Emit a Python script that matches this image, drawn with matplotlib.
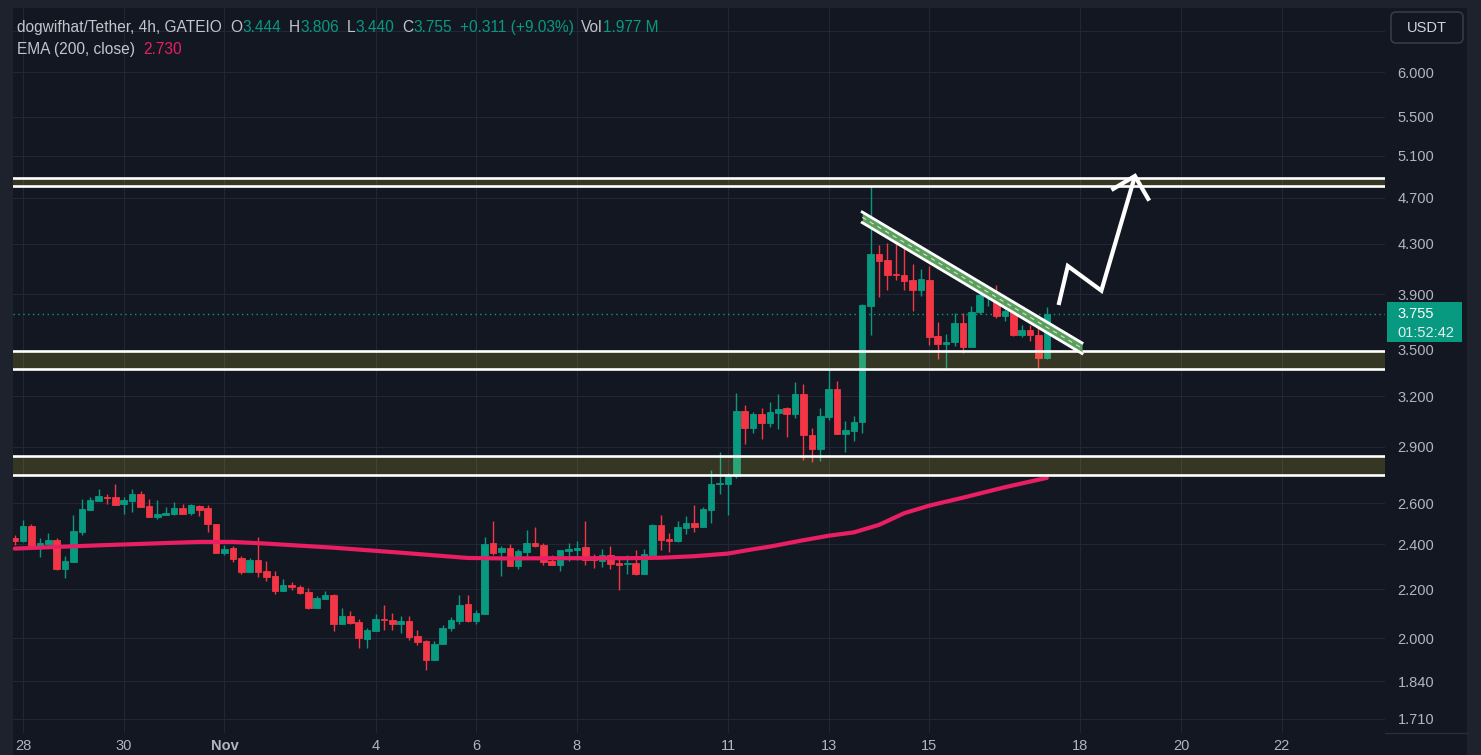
import numpy as np
import matplotlib
matplotlib.use("Agg")
import matplotlib.pyplot as plt
from matplotlib.patches import Rectangle, FancyBboxPatch
from matplotlib.ticker import NullLocator
from matplotlib.transforms import IdentityTransform

# 4h candles, dogwifhat/Tether (GATEIO), Oct 27 20:00 -> Nov 17 08:00
opens = [2.430, 2.413, 2.487, 2.388, 2.403, 2.420, 2.289, 2.320, 2.460, 2.567,
         2.612, 2.630, 2.630, 2.596, 2.612, 2.646, 2.585, 2.532, 2.542, 2.547,
         2.575, 2.552, 2.585, 2.575, 2.497, 2.361, 2.383, 2.337, 2.276, 2.328,
         2.279, 2.257, 2.194, 2.218, 2.210, 2.188, 2.122, 2.158, 2.175, 2.054,
         2.088, 2.064, 1.998, 2.030, 2.076, 2.072, 2.054, 2.068, 2.009, 1.990,
         1.919, 1.976, 2.041, 2.069, 2.137, 2.069, 2.098, 2.406, 2.362, 2.383,
         2.303, 2.365, 2.407, 2.397, 2.324, 2.306, 2.369, 2.374, 2.388, 2.333,
         2.324, 2.351, 2.315, 2.309, 2.315, 2.266, 2.351, 2.492, 2.425, 2.416,
         2.478, 2.502, 2.482, 2.566, 2.698, 2.698, 2.740, 3.108, 3.010, 3.091,
         3.034, 3.099, 3.127, 3.093, 3.213, 2.964, 2.890, 3.075, 3.244, 2.970,
         2.987, 3.040, 3.812, 4.216, 4.167, 4.055, 4.049, 4.009, 3.932, 4.009,
         3.592, 3.537, 3.551, 3.688, 3.516, 3.767, 3.889, 3.902, 3.738, 3.774,
         3.603, 3.638, 3.603, 3.444]
highs = [2.442, 2.516, 2.497, 2.428, 2.454, 2.428, 2.345, 2.539, 2.620, 2.629,
         2.672, 2.646, 2.698, 2.629, 2.672, 2.660, 2.619, 2.613, 2.580, 2.605,
         2.595, 2.595, 2.590, 2.590, 2.497, 2.395, 2.392, 2.346, 2.337, 2.434,
         2.323, 2.279, 2.244, 2.231, 2.218, 2.205, 2.171, 2.192, 2.180, 2.122,
         2.109, 2.076, 2.041, 2.096, 2.133, 2.100, 2.088, 2.088, 2.032, 1.995,
         1.990, 2.052, 2.084, 2.175, 2.175, 2.113, 2.434, 2.511, 2.393, 2.402,
         2.378, 2.468, 2.482, 2.408, 2.351, 2.374, 2.407, 2.416, 2.512, 2.356,
         2.378, 2.393, 2.337, 2.351, 2.374, 2.378, 2.497, 2.542, 2.455, 2.512,
         2.537, 2.591, 2.581, 2.772, 2.870, 2.756, 3.218, 3.145, 3.103, 3.127,
         3.163, 3.213, 3.130, 3.289, 3.276, 3.010, 3.127, 3.373, 3.295, 3.051,
         3.079, 3.826, 4.815, 4.290, 4.307, 4.323, 4.357, 4.136, 4.096, 4.119,
         3.696, 3.606, 3.760, 3.760, 3.812, 3.963, 3.948, 3.970, 3.812, 3.804,
         3.674, 3.674, 3.681, 3.806]
lows = [2.397, 2.410, 2.384, 2.343, 2.403, 2.285, 2.250, 2.320, 2.442, 2.567,
        2.612, 2.596, 2.591, 2.547, 2.557, 2.582, 2.532, 2.522, 2.542, 2.542,
        2.547, 2.542, 2.537, 2.460, 2.361, 2.351, 2.320, 2.267, 2.276, 2.254,
        2.233, 2.181, 2.194, 2.198, 2.181, 2.118, 2.122, 2.158, 2.030, 2.054,
        2.054, 1.961, 1.964, 2.030, 2.034, 2.034, 2.022, 1.995, 1.972, 1.879,
        1.919, 1.976, 2.030, 2.057, 2.065, 2.057, 2.098, 2.351, 2.257, 2.300,
        2.288, 2.333, 2.388, 2.307, 2.306, 2.280, 2.324, 2.328, 2.306, 2.292,
        2.297, 2.288, 2.197, 2.266, 2.261, 2.266, 2.351, 2.374, 2.365, 2.411,
        2.446, 2.460, 2.482, 2.502, 2.647, 2.542, 2.730, 2.918, 2.981, 2.941,
        3.016, 3.004, 2.958, 3.069, 2.828, 2.817, 2.822, 3.057, 2.970, 2.873,
        2.930, 2.981, 3.603, 3.881, 3.927, 4.008, 3.927, 3.777, 3.889, 3.530,
        3.435, 3.370, 3.523, 3.476, 3.516, 3.755, 3.812, 3.724, 3.702, 3.592,
        3.585, 3.562, 3.376, 3.440]
closes = [2.413, 2.487, 2.384, 2.406, 2.420, 2.289, 2.323, 2.463, 2.570, 2.615,
          2.635, 2.627, 2.591, 2.615, 2.646, 2.582, 2.532, 2.545, 2.552, 2.575,
          2.547, 2.590, 2.567, 2.494, 2.361, 2.378, 2.334, 2.276, 2.328, 2.276,
          2.254, 2.194, 2.218, 2.207, 2.185, 2.122, 2.164, 2.175, 2.054, 2.088,
          2.061, 2.002, 2.032, 2.076, 2.073, 2.054, 2.068, 2.006, 1.987, 1.919,
          1.978, 2.040, 2.072, 2.133, 2.069, 2.100, 2.402, 2.360, 2.383, 2.303,
          2.369, 2.407, 2.394, 2.319, 2.306, 2.374, 2.378, 2.383, 2.328, 2.328,
          2.351, 2.310, 2.306, 2.315, 2.266, 2.356, 2.492, 2.420, 2.416, 2.482,
          2.502, 2.482, 2.571, 2.698, 2.703, 2.740, 3.108, 3.008, 3.091, 3.034,
          3.103, 3.121, 3.093, 3.213, 2.964, 2.890, 3.079, 3.244, 2.970, 2.993,
          3.045, 3.819, 4.216, 4.159, 4.047, 4.047, 4.001, 3.932, 4.017, 3.585,
          3.537, 3.551, 3.688, 3.516, 3.767, 3.894, 3.896, 3.738, 3.774, 3.603,
          3.638, 3.599, 3.442, 3.755]

# EMA(200, close) read at a subset of candle positions
ema_pos = [0, 10, 22, 26, 30, 38, 46, 54, 58, 65, 73, 77, 81, 85, 88, 90, 94,
           97, 100, 103, 106, 109, 113, 118, 123]
ema_val = [2.380, 2.395, 2.411, 2.411, 2.403, 2.384, 2.361, 2.337, 2.335, 2.336,
           2.336, 2.338, 2.345, 2.357, 2.377, 2.389, 2.419, 2.440, 2.456, 2.492,
           2.549, 2.587, 2.627, 2.681, 2.730]

# support / resistance zones (low, high)
zones = [(4.810, 4.885), (3.372, 3.493), (2.745, 2.848)]

# falling channel drawn on the chart
chan_x = [101.0, 127.2]
chan_top = [4.573, 3.547]
chan_bot = [4.480, 3.475]

# projected path arrow
arrow_x = [124.4, 125.5, 129.5, 133.5]
arrow_y = [3.818, 4.118, 3.926, 4.904]
head_x = [130.7, 133.5, 135.2]
head_y = [4.773, 4.904, 4.675]

price_ticks = [6.5, 6.0, 5.5, 5.1, 4.7, 4.3, 3.9, 3.5, 3.2, 2.9, 2.6, 2.4,
               2.2, 2.0, 1.84, 1.71]
date_pos = [1, 13, 25, 43, 55, 67, 85, 97, 109, 127, 139, 151]
date_lbl = ['28', '30', 'Nov', '4', '6', '8', '11', '13', '15', '18', '20', '22']

UP = '#089981'
DOWN = '#f23645'
BG = '#131722'
FRAME = '#1e222d'
GRID = '#232735'
TXT = '#b2b5be'
EMA_C = '#e91e63'

plt.rcParams['font.family'] = ['Liberation Sans', 'DejaVu Sans']

W, H = 1481, 755
fig = plt.figure(figsize=(W / 100, H / 100), dpi=100, facecolor=FRAME)

# dark panel covering chart, price scale and time scale
fig.add_artist(Rectangle((13 / W, 0), (1467 - 13) / W, (H - 8) / H,
                         transform=fig.transFigure, facecolor=BG,
                         edgecolor='none', zorder=-5))

ax = fig.add_axes([13 / W, 1 - 733 / H, (1385 - 13) / W, (733 - 8) / H])
ax.set_facecolor(BG)
for s in ax.spines.values():
    s.set_visible(False)

ax.set_yscale('log')
ax.set_xlim(-0.2, 163.3)
ax.set_ylim(1.664, 6.794)

o = np.array(opens)
c = np.array(closes)
x = np.arange(len(o))
cols = np.where(c >= o, UP, DOWN)

ax.vlines(x, lows, highs, colors=cols, lw=1, zorder=3)
ax.bar(x, np.abs(c - o), bottom=np.minimum(o, c), width=0.78, color=cols,
       edgecolor=cols, lw=0.6, zorder=4)

ax.plot(ema_pos, ema_val, color=EMA_C, lw=3, solid_capstyle='round', zorder=5)

# zones
for lo, hi in zones:
    ax.axhspan(lo, hi, color='#ffeb3b', alpha=0.15, lw=0, zorder=6)
    ax.axhline(lo, color='white', lw=1.9, zorder=7)
    ax.axhline(hi, color='white', lw=1.9, zorder=7)

# channel
ax.fill_between(chan_x, chan_bot, chan_top, color='#5a9f5c', lw=0, zorder=7)
ax.plot(chan_x, chan_top, color='white', lw=2, zorder=8)
ax.plot(chan_x, chan_bot, color='white', lw=2, zorder=8)
ax.plot(chan_x, np.sqrt(np.array(chan_top) * np.array(chan_bot)),
        color='#d0e0d0', lw=0.8, ls=(0, (4, 4)), zorder=8)

# arrow
ax.plot(arrow_x, arrow_y, color='white', lw=3, solid_joinstyle='miter',
        solid_capstyle='butt', zorder=9)
ax.plot(head_x, head_y, color='white', lw=3, solid_joinstyle='miter',
        solid_capstyle='butt', zorder=9)

# last price line
ax.axhline(closes[-1], color=UP, lw=1, ls=(0, (1, 2.5)), zorder=2)

# grid and ticks (6.500 label sits under the USDT button)
ax.set_xticks(date_pos)
ax.set_xticklabels(date_lbl)
ax.set_yticks(price_ticks)
ax.set_yticklabels(['' if p > 6.2 else '%.3f' % p for p in price_ticks])
ax.yaxis.set_minor_locator(NullLocator())
ax.xaxis.set_minor_locator(NullLocator())
ax.yaxis.tick_right()
ax.grid(True, color=GRID, lw=0.8, zorder=0)
ax.set_axisbelow(True)
ax.tick_params(axis='y', length=0, pad=9, labelsize=10.5, labelcolor=TXT)
ax.tick_params(axis='x', length=0, pad=4, labelsize=10.5, labelcolor=TXT)
for lbl in ax.get_xticklabels():
    if lbl.get_text() == 'Nov':
        lbl.set_fontweight('bold')

# price scale bottom border
fig.add_artist(plt.Line2D([1385 / W, 1467 / W], [1 - 733 / H] * 2,
                          transform=fig.transFigure, color='#2a2e39', lw=1))

# last price label on the price scale
ypix = ax.transData.transform((0, closes[-1]))[1]
fig.add_artist(Rectangle((1387, ypix - 28), 75, 40, transform=IdentityTransform(),
                         fc=UP, ec='none', zorder=20))
fig.text(1397 / W, ypix / H, '%.3f' % closes[-1], color='white', fontsize=10.5,
         ha='left', va='center', zorder=21)
fig.text(1397 / W, (ypix - 19) / H, '01:52:42', color='#e8ecef', fontsize=10.5,
         ha='left', va='center', zorder=21)

# USDT box
fig.add_artist(FancyBboxPatch((1391 / 100, (H - 43) / 100), 0.72, 0.31,
                              boxstyle='round,pad=0,rounding_size=0.05',
                              transform=fig.dpi_scale_trans, fc=BG,
                              ec='#363a45', lw=1.2, zorder=10))
fig.text(1427 / W, 1 - 28 / H, 'USDT', color='#d1d4dc', fontsize=10.5,
         ha='center', va='center', zorder=11)


def text_row(parts, x0, y0, size=11):
    t = fig.text(x0, y0, parts[0][0], color=parts[0][1], fontsize=size,
                 va='bottom', ha='left')
    for s, col, gap in parts[1:]:
        t = ax.annotate(s, xy=(1, 0), xycoords=t, xytext=(gap, 0),
                        textcoords='offset points', va='bottom', ha='left',
                        color=col, fontsize=size, annotation_clip=False)
    return t


HDR = '#c2c5cc'
text_row([('dogwifhat/Tether, 4h, GATEIO', HDR),
          ('O', HDR, 6), ('%.3f' % opens[-1], UP, 0.2),
          ('H', HDR, 5.5), ('%.3f' % highs[-1], UP, 0.2),
          ('L', HDR, 5.5), ('%.3f' % lows[-1], UP, 0.2),
          ('C', HDR, 5.5), ('%.3f' % closes[-1], UP, 0.2),
          ('+0.311 (+9.03%)', UP, 5.5),
          ('Vol', HDR, 5.5), ('1.977 M', UP, 0.2)],
         17 / W, 1 - 35 / H, size=11.2)
text_row([('EMA (200, close)', HDR), ('%.3f' % ema_val[-1], EMA_C, 6)],
         17 / W, 1 - 57 / H, size=11.2)

fig.savefig('out.png', dpi=100, facecolor=FRAME)
